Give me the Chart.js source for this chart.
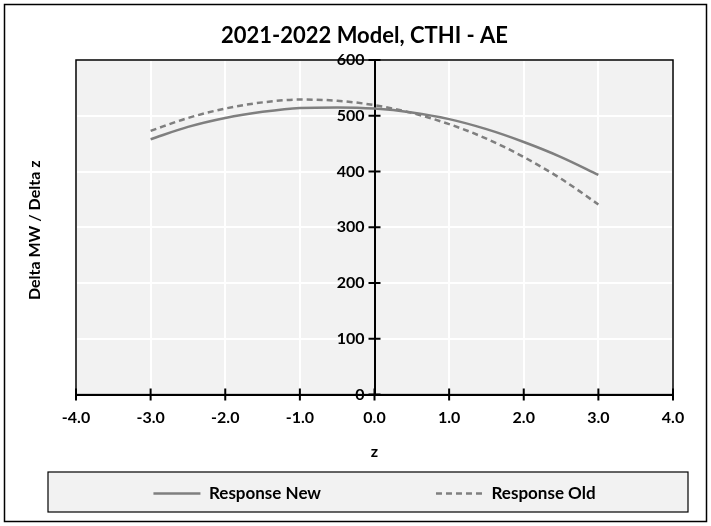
<!DOCTYPE html>
<html>
<head>
<meta charset="utf-8">
<script src="https://cdn.jsdelivr.net/npm/chart.js@4/dist/chart.umd.min.js"></script>
<style>
  body { margin: 0; background: #fff; }
  #wrap { width: 711px; height: 526px; }
</style>
</head>
<body>
<div id="wrap"><canvas id="responseChart" width="711" height="526"></canvas></div>
<script>
// Dados
const chartTitle = "2021-2022 Model, CTHI - AE";
const zValues = [-3, -2.5, -2, -1.5, -1, -0.5, 0, 0.5, 1, 1.5, 2, 2.5, 3];
const responseNew = [458, 480, 496, 507, 514, 515, 513, 506, 494, 476, 453, 426, 394];
const responseOld = [473, 496, 513, 524, 529, 527, 519, 505, 485, 459, 426, 387, 341];
const seriesLabels = ["Response New", "Response Old"];
const xTitle = "z";
const yTitle = "Delta MW / Delta z";

const fontFamily = "Lato, 'Open Sans', sans-serif";
const lineGray = "#7f7f7f";
const oldDash = [6, 4];

function toPoints(values) {
  return zValues.map((z, i) => ({ x: z, y: values[i] }));
}

// Fundo, molduras, título e marcas dos eixos
const framePlugin = {
  id: "frame",
  beforeDraw(chart) {
    const ctx = chart.ctx;
    const area = chart.chartArea;
    ctx.save();
    ctx.fillStyle = "#fff";
    ctx.fillRect(0, 0, chart.width, chart.height);
    ctx.strokeStyle = "#000";
    ctx.lineWidth = 1.5;
    ctx.strokeRect(4.5, 4.5, chart.width - 9, chart.height - 9);
    // fundo da área do gráfico
    ctx.fillStyle = "#f2f2f2";
    ctx.fillRect(area.left, area.top, area.right - area.left, area.bottom - area.top);
    // caixa da legenda
    const lg = chart.legend;
    ctx.fillStyle = "#f2f2f2";
    ctx.fillRect(48, lg.top, 640, lg.height);
    ctx.lineWidth = 1.2;
    ctx.strokeRect(48, lg.top, 640, lg.height);
    ctx.restore();
  },
  afterDraw(chart) {
    const ctx = chart.ctx;
    const area = chart.chartArea;
    const xs = chart.scales.x;
    const ys = chart.scales.y;
    ctx.save();
    ctx.strokeStyle = "#000";
    ctx.lineWidth = 1.5;
    ctx.strokeRect(area.left, area.top, area.right - area.left, area.bottom - area.top);

    // marcas cruzando os eixos
    const x0 = xs.getPixelForValue(0);
    ctx.lineWidth = 2;
    ctx.beginPath();
    ys.ticks.forEach((t) => {
      const py = ys.getPixelForValue(t.value);
      ctx.moveTo(x0 - 6, py);
      ctx.lineTo(x0 + 6, py);
    });
    xs.ticks.forEach((t) => {
      const px = xs.getPixelForValue(t.value);
      ctx.moveTo(px, area.bottom - 6);
      ctx.lineTo(px, area.bottom + 6);
    });
    ctx.stroke();

    ctx.fillStyle = "#000";
    ctx.textAlign = "center";
    ctx.textBaseline = "middle";
    ctx.font = "bold 22px " + fontFamily;
    ctx.fillText(chartTitle, (area.left + area.right) / 2 - 10, 36);

    ctx.translate(35, (area.top + area.bottom) / 2 + 3);
    ctx.rotate(-Math.PI / 2);
    ctx.font = "bold 16px " + fontFamily;
    ctx.fillText(yTitle, 0, 0);
    ctx.restore();
  },
};

new Chart(document.getElementById("responseChart"), {
  type: "line",
  data: {
    datasets: [
      {
        label: seriesLabels[0],
        data: toPoints(responseNew),
        borderColor: lineGray,
        backgroundColor: lineGray,
        borderWidth: 2.5,
        pointRadius: 0,
        cubicInterpolationMode: "monotone",
        pointStyle: "line",
      },
      {
        label: seriesLabels[1],
        data: toPoints(responseOld),
        borderColor: lineGray,
        backgroundColor: lineGray,
        borderWidth: 2.5,
        borderDash: oldDash,
        pointRadius: 0,
        cubicInterpolationMode: "monotone",
        pointStyle: "line",
      },
    ],
  },
  options: {
    responsive: false,
    devicePixelRatio: 1,
    animation: false,
    layout: {
      padding: { top: 60, left: 76, right: 38, bottom: 14 },
    },
    plugins: {
      title: { display: false },
      tooltip: { enabled: false },
      legend: {
        position: "bottom",
        labels: {
          usePointStyle: true,
          pointStyleWidth: 47,
          padding: 13,
          color: "#000",
          font: { family: fontFamily, size: 17, weight: "bold" },
          generateLabels(chart) {
            const items = Chart.defaults.plugins.legend.labels.generateLabels(chart);
            items.forEach((item, i) => {
              item.lineDash = chart.data.datasets[i].borderDash || [];
              item.lineWidth = 2.5;
              // espaço entre os itens, como no original
              if (i === 0) item.text = item.text + "\u2003".repeat(8);
            });
            return items;
          },
        },
      },
    },
    scales: {
      x: {
        type: "linear",
        min: -4,
        max: 4,
        ticks: {
          stepSize: 1,
          color: "#000",
          padding: 14,
          font: { family: fontFamily, size: 16, weight: "bold" },
          callback: (v) => Number(v).toFixed(1),
        },
        grid: { color: "#fff", lineWidth: 2, drawTicks: false },
        border: { color: "#000", width: 2 },
        title: {
          display: true,
          text: xTitle,
          color: "#000",
          padding: { top: 0, bottom: 11 },
          font: { family: fontFamily, size: 16, weight: "bold" },
        },
      },
      y: {
        type: "linear",
        position: { x: 0 },
        min: 0,
        max: 600,
        ticks: {
          stepSize: 100,
          color: "#000",
          font: { family: fontFamily, size: 16, weight: "bold" },
          callback: (v) => v + "\u2002\u2009",
        },
        grid: { color: "#fff", lineWidth: 2, drawTicks: false },
        border: { color: "#000", width: 2 },
      },
    },
  },
  plugins: [framePlugin],
});
</script>
</body>
</html>
